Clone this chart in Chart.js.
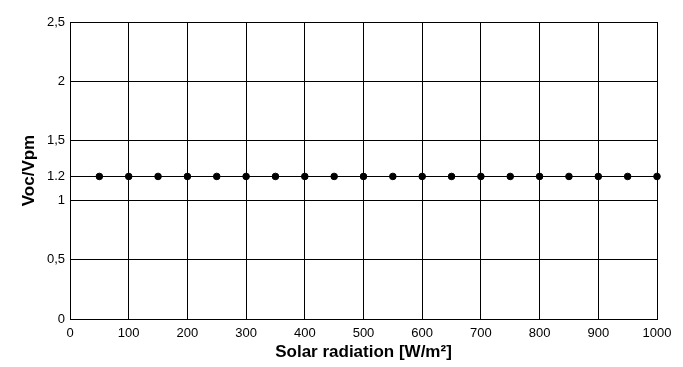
<!DOCTYPE html>
<html>
<head>
<meta charset="utf-8">
<script src="https://cdn.jsdelivr.net/npm/chart.js@4/dist/chart.umd.min.js"></script>
<style>
html,body{margin:0;padding:0;background:#fff;}
#wrap{width:683px;height:367px;position:relative;}
</style>
</head>
<body>
<div id="wrap"><canvas id="c" width="683" height="367"></canvas></div>
<script>
const solarRadiation = [50,100,150,200,250,300,350,400,450,500,550,600,650,700,750,800,850,900,950,1000];
const vocVpm = [1.2,1.2,1.2,1.2,1.2,1.2,1.2,1.2,1.2,1.2,1.2,1.2,1.2,1.2,1.2,1.2,1.2,1.2,1.2,1.2];
const yTickValues = [0,0.5,1,1.2,1.5,2,2.5];
const yTickLabels = ['0','0,5','1','1.2','1,5','2','2,5'];
const xTickValues = [0,100,200,300,400,500,600,700,800,900,1000];
const xTickLabels = ['0','100','200','300','400','500','600','700','800','900','1000'];

const tickFont = {family:'"Liberation Sans", Arial, sans-serif', size:13};
const titleFont = {family:'"Liberation Sans", Arial, sans-serif', size:17, weight:'bold'};

new Chart(document.getElementById('c'), {
  type:'scatter',
  data:{
    datasets:[{
      data: solarRadiation.map((x,i)=>({x:x,y:vocVpm[i]})),
      backgroundColor:'#000',
      borderColor:'#000',
      pointRadius:3.3,
      pointHoverRadius:3.3,
      showLine:false,
      clip:false
    }]
  },
  options:{
    responsive:false,
    animation:false,
    devicePixelRatio:1,
    layout:{padding:{top:22,right:26,left:0,bottom:0}},
    plugins:{legend:{display:false},tooltip:{enabled:false}},
    scales:{
      x:{
        type:'linear', min:0, max:1000,
        afterBuildTicks:s=>{s.ticks = xTickValues.map(v=>({value:v}));},
        afterFit:s=>{s.height = 48;},
        ticks:{color:'#000', font:tickFont, padding:7, maxRotation:0, autoSkip:false,
          callback:(v)=>{const i=xTickValues.indexOf(v);return i>=0?xTickLabels[i]:'';}},
        grid:{color:'#000', lineWidth:1, drawTicks:false},
        border:{color:'#000', width:1},
        title:{display:true, text:'Solar radiation [W/m²]', color:'#000', font:titleFont, padding:{top:0,bottom:4.5}}
      },
      y:{
        type:'linear', min:0, max:2.5,
        afterBuildTicks:s=>{s.ticks = yTickValues.map(v=>({value:v}));},
        afterFit:s=>{s.width = 70;},
        ticks:{color:'#000', font:tickFont, padding:5, autoSkip:false,
          callback:(v)=>{const i=yTickValues.indexOf(v);return i>=0?yTickLabels[i]:'';}},
        grid:{color:'#000', lineWidth:1, drawTicks:false},
        border:{color:'#000', width:1},
        title:{display:true, text:'Voc/Vpm', color:'#000', font:titleFont, padding:{top:19,bottom:0}}
      }
    }
  }
});
</script>
</body>
</html>
